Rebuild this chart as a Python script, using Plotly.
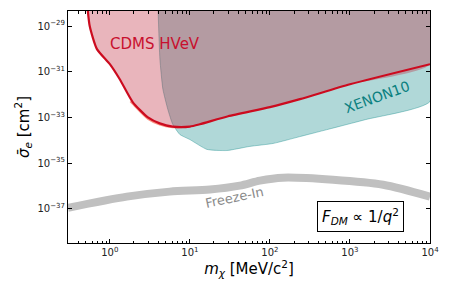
import numpy as np
import plotly.graph_objects as go

# ---- data ----
Y_TOP = 1e-28

cdms_mass = [0.52, 0.56, 0.69, 1.0, 1.33, 1.94, 2.99, 4.2, 6.1, 10.0, 13.3, 30.0, 100.0, 237.0, 1000.0, 10000.0]
cdms_sigma = [1e-28, 1e-29, 10**-30.01, 10**-30.67, 10**-31.33, 10**-32.34, 10**-33.0, 10**-33.26,
              10**-33.4, 10**-33.4, 10**-33.3, 10**-32.95, 10**-32.55, 10**-32.2, 10**-31.55, 10**-30.67]

cdms2_mass = [1.8, 1.94, 2.99, 4.2, 6.1, 8.0]
cdms2_sigma = [10**-32.3, 10**-32.42, 10**-33.07, 10**-33.32, 10**-33.44, 10**-33.44]

xenon_mass = [3.98, 4.22, 4.6, 5.3, 6.1, 7.5, 10.0, 16.3, 29.0, 56.0, 110.0, 237.0, 1550.0, 10000.0]
xenon_sigma = [1e-28, 10**-30.45, 10**-31.77, 10**-32.65, 10**-33.3, 10**-33.75, 10**-33.97, 10**-34.4,
               10**-34.45, 10**-34.27, 10**-34.14, 10**-33.84, 10**-33.1, 10**-32.3]

freeze_mass = [0.3, 1.63, 5.6, 17.8, 42.0, 75.0, 145.0, 615.0, 2600.0, 10000.0]
freeze_sigma = [10**-36.96, 10**-36.47, 10**-36.25, 10**-36.16, 10**-35.99, 10**-35.77, 10**-35.64,
                10**-35.73, 10**-35.95, 10**-36.47]

x_tickvals = [1, 10, 100, 1000, 10000]
x_ticktext = ["10<sup>0</sup>", "10<sup>1</sup>", "10<sup>2</sup>", "10<sup>3</sup>", "10<sup>4</sup>"]
y_tickvals = [1e-37, 1e-35, 1e-33, 1e-31, 1e-29]
y_ticktext = ["10<sup>−37</sup>", "10<sup>−35</sup>", "10<sup>−33</sup>", "10<sup>−31</sup>", "10<sup>−29</sup>"]

FONT = "DejaVu Sans"

fig = go.Figure()

# XENON10 fill (drawn first)
fig.add_trace(go.Scatter(
    x=xenon_mass + [xenon_mass[-1]], y=xenon_sigma + [Y_TOP],
    mode="lines", fill="toself", fillcolor="rgba(0,128,128,0.31)",
    line=dict(color="rgba(0,128,128,0.35)", width=1, shape="spline", smoothing=0.5),
    hoverinfo="skip", showlegend=False))

# CDMS HVeV fill (on top)
fig.add_trace(go.Scatter(
    x=cdms_mass + [cdms_mass[-1]], y=cdms_sigma + [Y_TOP],
    mode="lines", fill="toself", fillcolor="rgba(189,29,51,0.33)",
    line=dict(width=0, shape="spline", smoothing=0.6), hoverinfo="skip", showlegend=False))

# secondary salmon edge
fig.add_trace(go.Scatter(
    x=cdms2_mass, y=cdms2_sigma, mode="lines",
    line=dict(color="rgba(250,120,100,0.8)", width=1.6, shape="spline", smoothing=0.6),
    hoverinfo="skip", showlegend=False))

# CDMS HVeV line
fig.add_trace(go.Scatter(
    x=cdms_mass, y=cdms_sigma, mode="lines",
    line=dict(color="#cc0b1f", width=2.2, shape="spline", smoothing=0.6),
    hoverinfo="skip", showlegend=False))

# Freeze-in
fig.add_trace(go.Scatter(
    x=freeze_mass, y=freeze_sigma, mode="lines",
    line=dict(color="#c0c0c0", width=8, shape="spline", smoothing=0.8),
    hoverinfo="skip", showlegend=False))

axis_common = dict(
    type="log", showgrid=False, zeroline=False,
    showline=True, linecolor="black", linewidth=1, mirror="ticks",
    ticks="inside", ticklen=4, tickcolor="black",
    tickfont=dict(family=FONT, size=10, color="#222"),
)

fig.update_xaxes(
    **axis_common,
    range=[np.log10(0.3), 4],
    tickvals=x_tickvals, ticktext=x_ticktext,
    minor=dict(ticks="inside", ticklen=2.5, tickcolor="black", dtick="D1", showgrid=False),
    title=dict(text="<i>m</i><sub><i>χ</i></sub> [MeV/c<sup>2</sup>]",
               font=dict(family=FONT, size=15, color="black"), standoff=4),
)
fig.update_yaxes(
    **axis_common,
    range=[-38.5, -28.34],
    tickvals=y_tickvals, ticktext=y_ticktext,
    title=dict(text="<i>σ̄</i><sub><i>e</i></sub> [cm<sup>2</sup>]",
               font=dict(family=FONT, size=15, color="black"), standoff=4),
)

ann = dict(xref="paper", yref="paper", showarrow=False, xanchor="center", yanchor="middle")
fig.add_annotation(**ann, x=0.24, y=0.858, text="CDMS HVeV",
                   font=dict(family=FONT, size=15, color="#c8102e"))
fig.add_annotation(**ann, x=0.854, y=0.629, text="XENON10", textangle=-20,
                   font=dict(family=FONT, size=14, color="#0a8080"))
fig.add_annotation(**ann, x=0.459, y=0.194, text="Freeze-In", textangle=-12,
                   font=dict(family=FONT, size=13, color="#8a8a8a"))
fig.add_annotation(**ann, x=0.807, y=0.116,
                   text="<i>F</i><sub><i>DM</i></sub> ∝ 1/<i>q</i><sup>2</sup>",
                   bgcolor="white", bordercolor="black", borderwidth=1, borderpad=4,
                   font=dict(family=FONT, size=15, color="black"))

# page body has an 8px margin, so the figure is sized/offset to compensate
fig.update_layout(
    width=442, height=292,
    margin=dict(l=60, r=20, t=3, b=57),
    plot_bgcolor="white", paper_bgcolor="white",
)

fig.write_html("out.html")
